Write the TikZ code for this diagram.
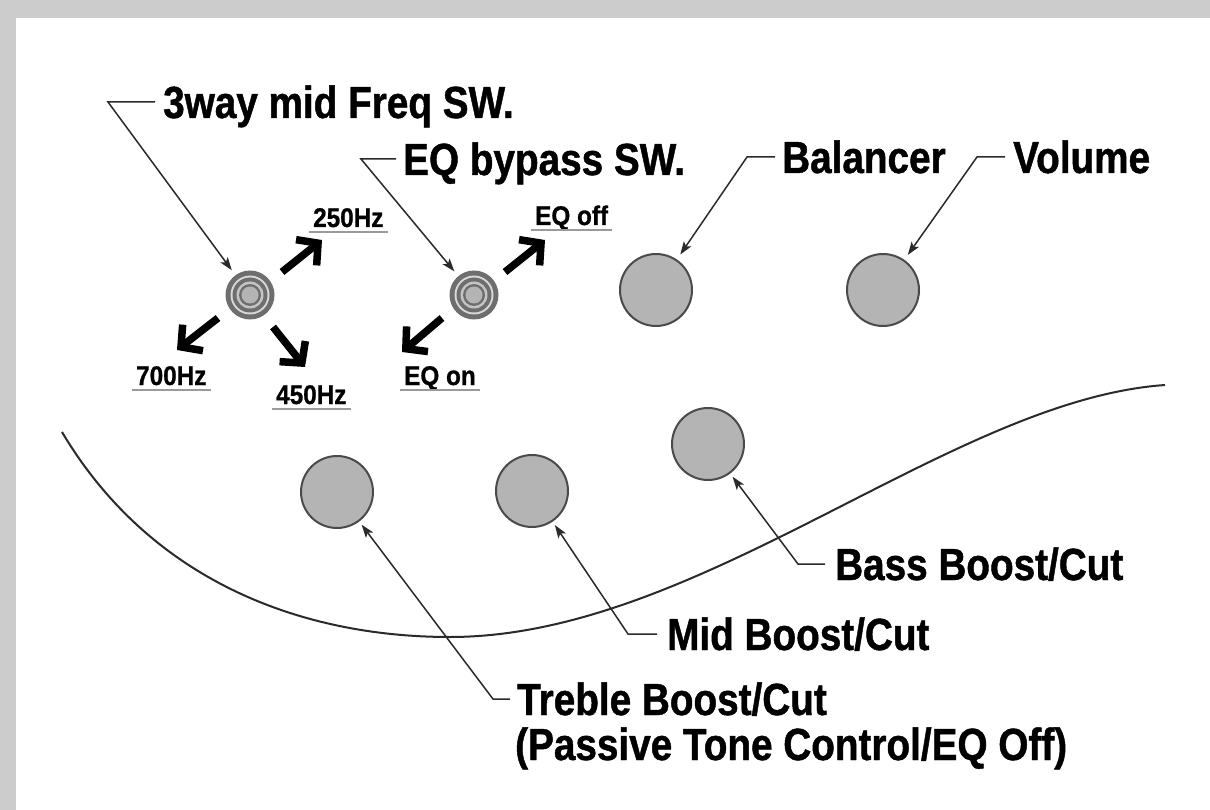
\documentclass[tikz,border=0pt]{standalone}
\usepackage{fontspec}
\newfontfamily\bigf[FakeStretch=0.86,FakeBold=1]{Liberation Sans}
\newfontfamily\smallf[FakeStretch=0.9,FakeBold=0.8]{Liberation Sans}
\usetikzlibrary{arrows.meta}
\definecolor{bg}{HTML}{CCCCCC}
\definecolor{knobfill}{HTML}{B4B4B4}
\definecolor{knobline}{HTML}{4A4A4A}
\definecolor{linec}{HTML}{2A2A2A}
\definecolor{ulc}{HTML}{9A9A9A}
\definecolor{ringdark}{HTML}{6E6E6E}
\definecolor{ringlight}{HTML}{D8D8D8}
\definecolor{ringmid}{HTML}{C4C4C4}
\tikzset{
  knob/.style={circle, minimum size=72pt, inner sep=0pt, fill=knobfill, draw=knobline, line width=2pt},
  swnode/.style={circle, minimum size=49pt, inner sep=0pt},
  lead/.style={draw=linec, line width=1.5pt, shorten >=4pt, -{Stealth[length=13pt,width=9pt,inset=3pt]}},
  dirarrow/.style={line width=7.5pt, -{Straight Barb[length=15pt,width=33pt]}},
  biglabel/.style={font=\bigf\bfseries\fontsize{45}{49}\selectfont, inner sep=0pt, text height=32pt, text depth=0pt, anchor=west},
  smalllabel/.style={font=\smallf\bfseries\fontsize{27}{30}\selectfont, inner sep=0pt, anchor=base west},
  uline/.style={draw=ulc, line width=2pt},
  bodycurve/.style={draw=linec, line width=2pt},
}
\newcommand{\swring}[1]{%
  \fill[ringdark] (#1) circle[radius=24.5pt];
  \fill[ringlight] (#1) circle[radius=19.5pt];
  \fill[ringdark] (#1) circle[radius=17.5pt];
  \fill[ringmid] (#1) circle[radius=13.5pt];
  \fill[ringdark] (#1) circle[radius=11pt];
  \fill[knobfill] (#1) circle[radius=8.5pt];
}
\begin{document}
\begin{tikzpicture}[x=1pt,y=-1pt]
\useasboundingbox (0,0) rectangle (1210,810);
\fill[bg] (0,0) rectangle (1210,810);
\fill[white] (16,18) rectangle (1210,810);

% body curve
\draw[bodycurve] (62,432) .. controls (150,580) and (300,637) .. (450,637)
  .. controls (700,637) and (950,400) .. (1165,385);

% switches
\node[swnode] (s1) at (250,295) {};
\node[swnode] (s2) at (474,295) {};
\swring{s1}
\swring{s2}

% knobs
\node[knob] (bal) at (656,290) {};
\node[knob] (vol) at (883,290) {};
\node[knob] (bassk) at (708,444) {};
\node[knob] (midk) at (532,491) {};
\node[knob] (trebk) at (337,492) {};

% direction arrows of switch 1
\coordinate (a250s) at ([shift={(32,-23)}]s1.center);
\coordinate (a250e) at ([shift={(72,-55)}]s1.center);
\coordinate (a700s) at ([shift={(-32,23)}]s1.center);
\coordinate (a700e) at ([shift={(-73,55)}]s1.center);
\coordinate (a450s) at ([shift={(23,32)}]s1.center);
\coordinate (a450e) at ([shift={(55,72)}]s1.center);
\draw[dirarrow] (a250s) -- (a250e);
\draw[dirarrow] (a700s) -- (a700e);
\draw[dirarrow] (a450s) -- (a450e);
% direction arrows of switch 2
\coordinate (aoffs) at ([shift={(31,-23)}]s2.center);
\coordinate (aoffe) at ([shift={(71,-55)}]s2.center);
\coordinate (aons) at ([shift={(-32,23)}]s2.center);
\coordinate (aone) at ([shift={(-72,57)}]s2.center);
\draw[dirarrow] (aoffs) -- (aoffe);
\draw[dirarrow] (aons) -- (aone);

% small labels
\node[smalllabel] (l250) at (313,227) {250Hz};
\node[smalllabel] (l700) at (136,385) {700Hz};
\node[smalllabel] (l450) at (276,404) {450Hz};
\node[smalllabel] (leqoff) at (535,225) {EQ off};
\node[smalllabel] (leqon) at (404,385) {EQ on};
\foreach \n in {l250,l700,l450,leqoff,leqon}{
  \draw[uline] ([xshift=-4pt,yshift=-5pt]\n.base west) -- ([xshift=4pt,yshift=-5pt]\n.base east);
}

% big labels
\node[biglabel] (l3way) at (163,102) {3way mid Freq SW.};
\node[biglabel] (leq) at (403,159) {EQ bypass SW.};
\node[biglabel] (lbal) at (782,157) {Balancer};
\node[biglabel] (lvol) at (1013,157) {Volume};
\node[biglabel] (lbass) at (835,564) {Bass Boost/Cut};
\node[biglabel] (lmid) at (667,634) {Mid Boost/Cut};
\node[biglabel] (ltreb) at (517,699) {Treble Boost/Cut};
\node[biglabel] (ltreb2) at (515,744) {(Passive Tone Control/EQ Off)};

% leaders
\draw[lead, shorten >=6pt] ([xshift=-8pt]l3way.west) -- ++(-47,0) -- (s1);
\draw[lead, shorten >=6pt] ([xshift=-7pt]leq.west) -- ++(-35,0) -- (s2);
\draw[lead, shorten >=6pt] ([xshift=-7pt]lbal.west) -- ++(-28,0) -- (bal);
\draw[lead, shorten >=6pt] ([xshift=-8pt]lvol.west) -- ++(-28,0) -- (vol);
\draw[lead] ([xshift=-10pt]lbass.west) -- ++(-27,0) -- (bassk);
\draw[lead] ([xshift=-10pt]lmid.west) -- ++(-29,0) -- (midk);
\draw[lead] ([xshift=-7pt]ltreb.west) -- ++(-17,0) -- (trebk);
\end{tikzpicture}
\end{document}
